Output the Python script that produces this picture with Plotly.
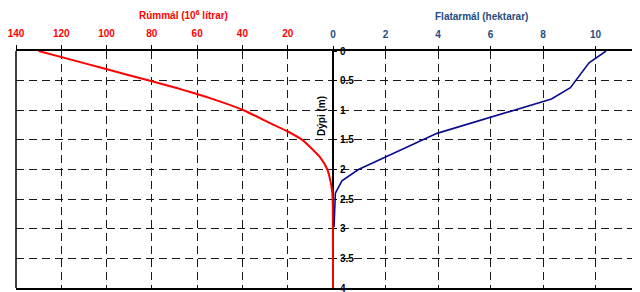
import plotly.graph_objects as go

# Rúmmál (volume, 10^6 litres) vs depth
vol_depth = [0, 0.2, 0.4, 0.6, 0.8, 1.0, 1.2, 1.35, 1.5, 1.6, 1.8, 2.0, 2.2, 2.4, 2.6, 3.0, 3.5, 4.0]
vol_value = [130, 110.4, 90.9, 71.5, 54.0, 39.5, 28.7, 20.4, 13.6, 10.7, 5.6, 2.5, 1.1, 0.3, 0.1, 0.05, 0.02, 0.0]

# Flatarmál (area, hectares) vs depth
area_depth = [0, 0.2, 0.62, 0.81, 1.39, 2.0, 2.19, 2.4, 2.97]
area_value = [10.4, 9.75, 9.04, 8.32, 3.96, 0.97, 0.34, 0.09, 0.04]

vol_ticks = [140, 120, 100, 80, 60, 40, 20]
area_ticks = [0, 2, 4, 6, 8, 10]
depth_ticks = [0, 0.5, 1, 1.5, 2, 2.5, 3, 3.5, 4]

RED = "#FF0000"
BLUE_LINE = "#0B0B8F"
BLUE_TXT = "#244C82"
FONT = "Liberation Sans"
GRID = "#1a1a1a"
DASH = "8px,5px"

# the page body has an 8px margin, so the figure is sized/offset to compensate
OFF = 8
W, H = 640 - OFF, 292 - OFF
L, R, T, B = 16 - OFF, 0, 51 - OFF, 4
x0px = 333.0 - OFF
plot_w = W - L - R
plot_h = H - T - B
red_ppu = (x0px - L) / 140.0
blue_ppu = 26.26
red_range = [140, -(W - R - x0px) / red_ppu]
blue_range = [-(x0px - L) / blue_ppu, (W - R - x0px) / blue_ppu]
ypos = (x0px - L) / plot_w


def px_x(x):
    return (x - OFF - L) / plot_w


def px_y(y):
    return 1 - (y - OFF - T) / plot_h


fig = go.Figure()
fig.add_trace(go.Scatter(x=vol_value, y=vol_depth, mode="lines",
                         line=dict(color=RED, width=2, shape="spline", smoothing=0.6),
                         xaxis="x", yaxis="y",
                         showlegend=False, hoverinfo="skip"))
fig.add_trace(go.Scatter(x=area_value, y=area_depth, mode="lines",
                         line=dict(color=BLUE_LINE, width=1.6), xaxis="x2", yaxis="y",
                         showlegend=False, hoverinfo="skip"))

fig.update_layout(
    width=W, height=H,
    margin=dict(l=L, r=R, t=T, b=B, pad=0, autoexpand=False),
    paper_bgcolor="white", plot_bgcolor="white",
    font=dict(family=FONT, size=10, color="black"),
    xaxis=dict(
        side="top", range=red_range, autorange=False, automargin=False,
        tickmode="array", tickvals=vol_ticks,
        tickfont=dict(family=FONT, size=10, color=RED, weight="bold"),
        ticks="outside", ticklen=4, tickcolor="black", tickwidth=1,
        ticklabelstandoff=4, ticklabeloverflow="allow",
        showline=True, linecolor="black", linewidth=1.5, mirror=True,
        showgrid=True, gridcolor=GRID, gridwidth=1, griddash=DASH,
        zeroline=False, layer="below traces",
    ),
    xaxis2=dict(
        side="top", overlaying="x", anchor="y", range=blue_range, autorange=False,
        automargin=False,
        tickmode="array", tickvals=area_ticks,
        tickfont=dict(family=FONT, size=10, color=BLUE_TXT, weight="bold"),
        ticks="outside", ticklen=4, tickcolor="black", tickwidth=1,
        ticklabelstandoff=4, ticklabeloverflow="allow",
        showline=False,
        showgrid=True, gridcolor=GRID, gridwidth=1, griddash=DASH,
        zeroline=False, layer="below traces",
    ),
    yaxis=dict(
        range=[4, 0], autorange=False, automargin=False,
        anchor="free", position=ypos, side="right",
        tickmode="array", tickvals=depth_ticks,
        tickfont=dict(family=FONT, size=10, color="black", weight="bold"),
        ticks="outside", ticklen=3, tickcolor="black",
        ticklabelstandoff=1, ticklabeloverflow="allow",
        showline=True, linecolor="black", linewidth=2,
        showgrid=True, gridcolor=GRID, gridwidth=1, griddash=DASH,
        zeroline=False, layer="below traces",
    ),
    annotations=[
        dict(text="Rúmmál (10<sup>6</sup> lítrar)", xref="paper", yref="paper",
             x=px_x(183), y=px_y(15),
             xanchor="center", yanchor="middle", showarrow=False,
             font=dict(family=FONT, size=10, color=RED, weight="bold")),
        dict(text="Flatarmál (hektarar)", xref="paper", yref="paper",
             x=px_x(481), y=px_y(16),
             xanchor="center", yanchor="middle", showarrow=False,
             font=dict(family=FONT, size=10, color=BLUE_TXT, weight="bold")),
        dict(text="Dýpi (m)", xref="paper", yref="paper",
             x=px_x(321), y=px_y(116),
             xanchor="center", yanchor="middle", showarrow=False, textangle=-90,
             font=dict(family=FONT, size=10, color="black", weight="bold")),
    ],
    shapes=[
        dict(type="line", xref="paper", yref="paper", x0=0, x1=0, y0=0, y1=1,
             line=dict(color="black", width=1.5)),
    ],
)

fig.write_html("out.html")
